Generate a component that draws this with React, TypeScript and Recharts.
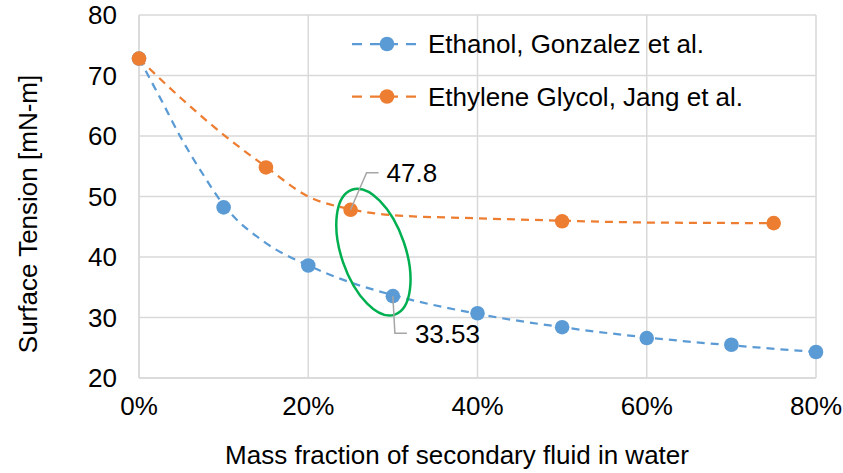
import {
  ComposedChart,
  Line,
  XAxis,
  YAxis,
  CartesianGrid,
  Legend,
  LabelList,
  ReferenceDot,
} from "recharts";

const FONT = "'Liberation Sans', Arial, sans-serif";
const FONT_SIZE = 26;
const INK = "#000000";
const GRID = "#d9d9d9";
const ETHANOL = "#5B9BD5";
const GLYCOL = "#ED7D31";
const HIGHLIGHT = "#00B050";
const LEADER = "#a6a6a6";

const X_TICKS = [0, 0.2, 0.4, 0.6, 0.8];
const Y_TICKS = [20, 30, 40, 50, 60, 70, 80];

// measured points
const ethanolX = [0, 0.1, 0.2, 0.3, 0.4, 0.5, 0.6, 0.7, 0.8];
const ethanolY = [72.8, 48.2, 38.6, 33.53, 30.7, 28.4, 26.6, 25.5, 24.3];
const glycolX = [0, 0.15, 0.25, 0.5, 0.75];
const glycolY = [72.8, 54.8, 47.8, 45.9, 45.6];

// trendline samples
const ethanolFitX = [0, 0.025, 0.05, 0.075, 0.1, 0.15, 0.2, 0.25, 0.3, 0.4, 0.5, 0.6, 0.7, 0.8];
const ethanolFitY = [72.8, 66.3, 59.6, 53.8, 48.6, 42.3, 38.6, 35.8, 33.7, 30.6, 28.4, 26.7, 25.4, 24.3];
const glycolFitX = [0, 0.05, 0.1, 0.15, 0.2, 0.25, 0.3, 0.4, 0.5, 0.6, 0.75];
const glycolFitY = [72.8, 66.2, 60.2, 54.9, 50.0, 47.9, 46.9, 46.4, 46.0, 45.7, 45.6];

// which points get a callout
const ETHANOL_CALLOUT = 3;
const GLYCOL_CALLOUT = 2;

const SERIES = [
  { name: "Ethanol, Gonzalez et al.", color: ETHANOL },
  { name: "Ethylene Glycol, Jang et al.", color: GLYCOL },
];

const toPoints = (xs: number[], ys: number[]) => xs.map((x, i) => ({ x, y: ys[i] }));

const ethanolPts = toPoints(ethanolX, ethanolY);
const glycolPts = toPoints(glycolX, glycolY);
const ethanolFit = toPoints(ethanolFitX, ethanolFitY);
const glycolFit = toPoints(glycolFitX, glycolFitY);

function SeriesLegend() {
  return (
    <svg width={470} height={100} style={{ display: "block", overflow: "visible" }}>
      {SERIES.map((s, i) => {
        const cy = 24 + i * 52.5;
        return (
          <g key={s.name}>
            <line x1={2} x2={68} y1={cy} y2={cy} stroke={s.color} strokeWidth={2.25} strokeDasharray="10 8" />
            <circle cx={37} cy={cy} r={7.3} fill={s.color} />
            <text x={78} y={cy} dy="0.36em" fontSize={FONT_SIZE} fontFamily={FONT} fill={INK}>
              {s.name}
            </text>
          </g>
        );
      })}
    </svg>
  );
}

// leader line + value text; dir = -1 goes up, 1 goes down
function callout(target: number, dir: number, dx: number) {
  return (props: any) => {
    const { x, y, value, index } = props;
    if (index !== target) return null;
    const ty = y + dir * 37;
    return (
      <g>
        <polyline
          points={`${x},${y} ${x + dx},${ty} ${x + dx + 12},${ty}`}
          fill="none"
          stroke={LEADER}
          strokeWidth={1.5}
        />
        <text x={x + dx + 20} y={ty} dy="0.36em" fontSize={FONT_SIZE} fontFamily={FONT} fill={INK}>
          {String(value)}
        </text>
      </g>
    );
  };
}

function Highlight(props: any) {
  const { cx, cy } = props;
  return (
    <ellipse
      cx={cx}
      cy={cy}
      rx={32}
      ry={66}
      transform={`rotate(-19 ${cx} ${cy})`}
      fill="none"
      stroke={HIGHLIGHT}
      strokeWidth={2.5}
    />
  );
}

export default function App() {
  const tick = { fontSize: FONT_SIZE, fontFamily: FONT, fill: INK };
  return (
    <div style={{ position: "absolute", left: 0, top: 0, background: "#fff" }}>
      <ComposedChart
        width={843}
        height={473}
        margin={{ top: 15, right: 27, bottom: 0, left: 0 }}
      >
        <CartesianGrid stroke={GRID} strokeWidth={1.5} />
        <XAxis
          type="number"
          dataKey="x"
          domain={[0, 0.8]}
          ticks={X_TICKS}
          tickFormatter={(v: number) => `${Math.round(v * 100)}%`}
          tick={tick}
          tickLine={false}
          tickMargin={13}
          axisLine={{ stroke: GRID, strokeWidth: 1.5 }}
          height={95}
          label={{
            content: () => (
              <text
                x={457}
                y={455}
                dy="0.36em"
                textAnchor="middle"
                fontSize={FONT_SIZE}
                fontFamily={FONT}
                fill={INK}
              >
                Mass fraction of secondary fluid in water
              </text>
            ),
          }}
        />
        <YAxis
          type="number"
          dataKey="y"
          domain={[20, 80]}
          ticks={Y_TICKS}
          tick={tick}
          tickLine={false}
          tickMargin={16}
          axisLine={{ stroke: GRID, strokeWidth: 1.5 }}
          width={139}
          label={{
            content: () => (
              <text
                transform="translate(28 214) rotate(-90)"
                dy="0.36em"
                textAnchor="middle"
                fontSize={FONT_SIZE}
                fontFamily={FONT}
                fill={INK}
              >
                Surface Tension [mN-m]
              </text>
            ),
          }}
        />
        <Legend
          layout="vertical"
          align="center"
          verticalAlign="middle"
          content={() => <SeriesLegend />}
          wrapperStyle={{ left: 350, top: 20, width: 470, height: 100 }}
        />

        <Line
          data={ethanolFit}
          dataKey="y"
          type="monotone"
          stroke={ETHANOL}
          strokeWidth={2.25}
          strokeDasharray="8 6"
          dot={false}
          activeDot={false}
          legendType="none"
          isAnimationActive={false}
        />
        <Line
          data={glycolFit}
          dataKey="y"
          type="monotone"
          stroke={GLYCOL}
          strokeWidth={2.25}
          strokeDasharray="8 6"
          dot={false}
          activeDot={false}
          legendType="none"
          isAnimationActive={false}
        />
        <Line
          data={ethanolPts}
          dataKey="y"
          stroke="none"
          dot={{ r: 7.3, fill: ETHANOL, stroke: "none" }}
          activeDot={false}
          isAnimationActive={false}
        >
          <LabelList dataKey="y" content={callout(ETHANOL_CALLOUT, 1, 2)} />
        </Line>
        <Line
          data={glycolPts}
          dataKey="y"
          stroke="none"
          dot={{ r: 7.3, fill: GLYCOL, stroke: "none" }}
          activeDot={false}
          isAnimationActive={false}
        >
          <LabelList dataKey="y" content={callout(GLYCOL_CALLOUT, -1, 16)} />
        </Line>
        <ReferenceDot x={0.277} y={40.8} r={0} shape={Highlight} />
      </ComposedChart>
    </div>
  );
}
